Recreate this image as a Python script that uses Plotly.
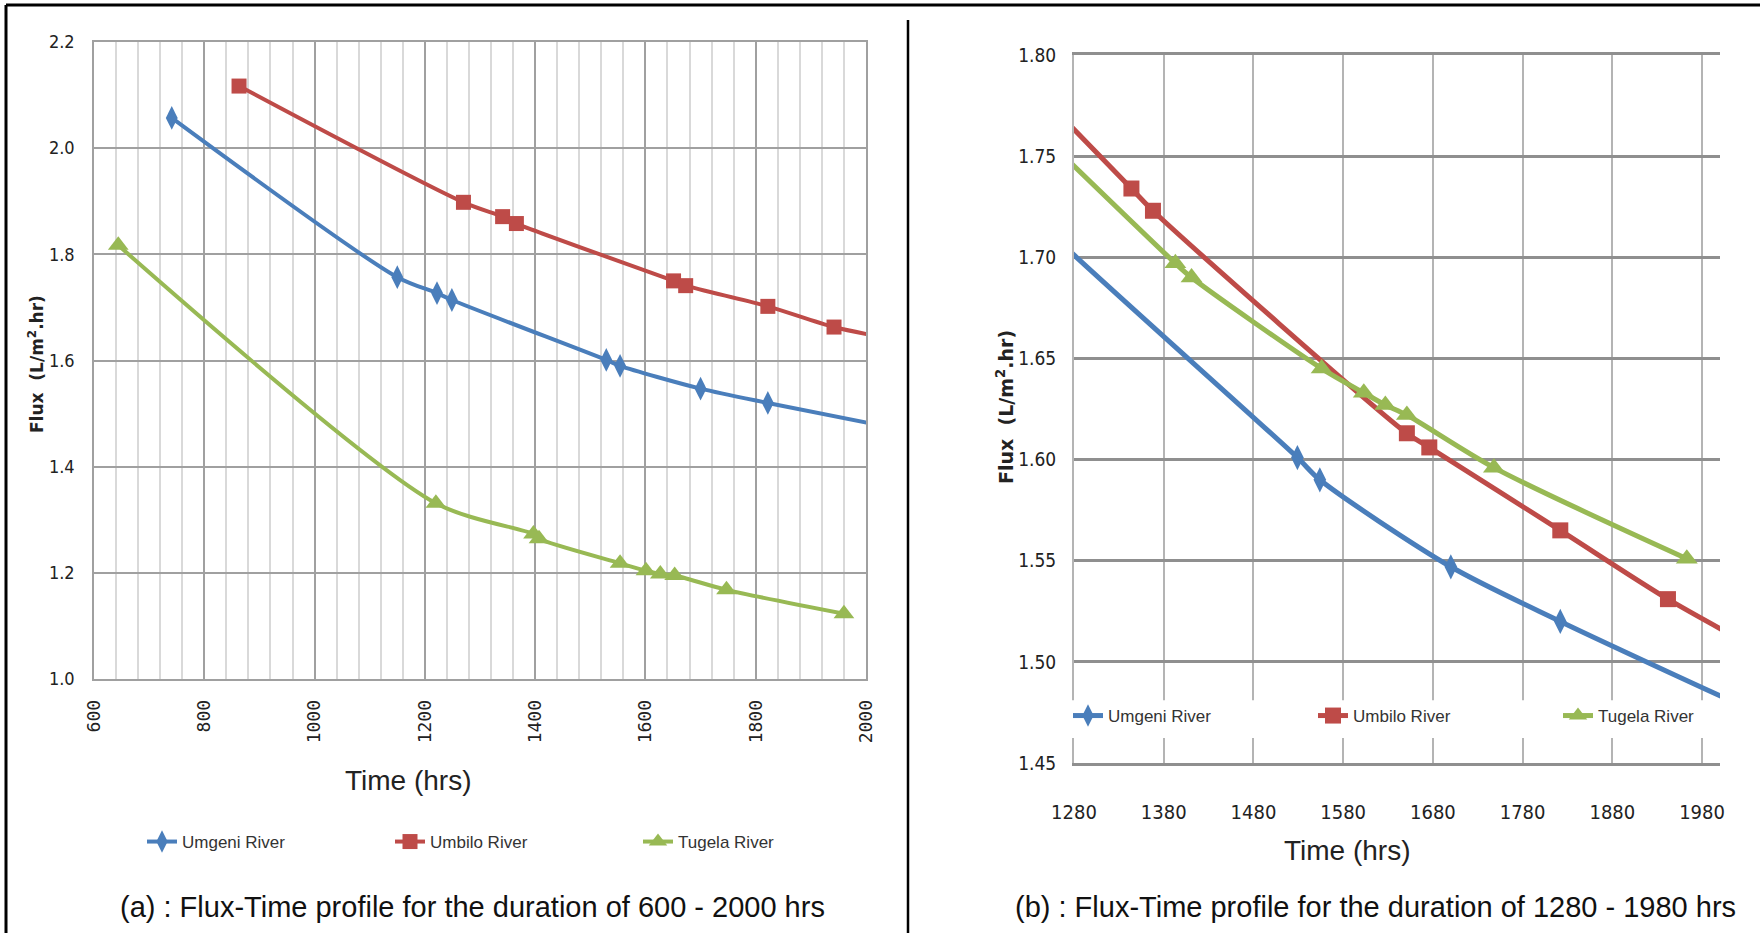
import plotly.graph_objects as go

# ---------------- data: panel (a) 600 - 2000 hrs ----------------
umgeni_t = [741, 1150, 1222, 1249, 1529, 1554, 1700, 1822, 2060]
umgeni_flux = [2.057, 1.757, 1.727, 1.714, 1.601, 1.590, 1.547, 1.520, 1.471]

umbilo_a_t = [863, 1270, 1341, 1366, 1651, 1673, 1822, 1942, 2060]
umbilo_a_flux = [2.117, 1.898, 1.871, 1.858, 1.750, 1.741, 1.702, 1.663, 1.638]

tugela_a_t = [644, 1220, 1397, 1407, 1554, 1601, 1627, 1653, 1747, 1960]
tugela_a_flux = [1.817, 1.331, 1.273, 1.264, 1.218, 1.204, 1.198, 1.195, 1.168, 1.123]

# ---------------- data: panel (b) 1280 - 1980 hrs ----------------
umbilo_b_t = [1250, 1344, 1368, 1651, 1676, 1822, 1942, 2060]
umbilo_b_flux = [1.777, 1.734, 1.723, 1.613, 1.606, 1.565, 1.531, 1.502]

tugela_b_t = [1250, 1393, 1411, 1556, 1603, 1627, 1651, 1748, 1963]
tugela_b_flux = [1.758, 1.697, 1.690, 1.645, 1.633, 1.627, 1.622, 1.596, 1.551]

series_names = ["Umgeni River", "Umbilo River", "Tugela River"]
a_xticks = [600, 800, 1000, 1200, 1400, 1600, 1800, 2000]
b_xticks = [1280, 1380, 1480, 1580, 1680, 1780, 1880, 1980]
a_yticks = [1.0, 1.2, 1.4, 1.6, 1.8, 2.0, 2.2]
b_yticks = [1.45, 1.50, 1.55, 1.60, 1.65, 1.70, 1.75, 1.80]

# ---------------- styling ----------------
W, H = 1760, 933
BLUE, RED, GREEN = "#4A7EBB", "#BE4B48", "#98B954"
NARROW = "Liberation Sans Narrow, DejaVu Sans Condensed, Liberation Sans, Arial"
SANS = "Liberation Sans, Arial"


def px_x(p):
    return p / W


def px_y(p):
    return 1 - p / H


fig = go.Figure()

styles = [
    (BLUE, "diamond-tall", 17),
    (RED, "square", 15),
    (GREEN, "triangle-up", 18),
]

a_data = [(umgeni_t, umgeni_flux), (umbilo_a_t, umbilo_a_flux), (tugela_a_t, tugela_a_flux)]
b_data = [(umgeni_t, umgeni_flux), (umbilo_b_t, umbilo_b_flux), (tugela_b_t, tugela_b_flux)]

for name, (col, sym, sz), (xs, ys) in zip(series_names, styles, a_data):
    fig.add_trace(go.Scatter(
        x=xs, y=ys, name=name, mode="lines+markers",
        line=dict(color=col, width=4, shape="spline", smoothing=0.8),
        marker=dict(color=col, symbol=sym, size=sz),
        xaxis="x", yaxis="y", legend="legend",
    ))

for name, (col, sym, sz), (xs, ys) in zip(series_names, styles, b_data):
    fig.add_trace(go.Scatter(
        x=xs, y=ys, name=name, mode="lines+markers",
        line=dict(color=col, width=5, shape="spline", smoothing=0.8),
        marker=dict(color=col, symbol=sym, size=sz + 1),
        xaxis="x2", yaxis="y2", legend="legend2",
    ))

fig.update_layout(
    width=W, height=H, autosize=False,
    margin=dict(l=0, r=0, t=0, b=0, pad=0, autoexpand=False),
    paper_bgcolor="white", plot_bgcolor="white",
    showlegend=True,
    xaxis=dict(
        domain=[px_x(94), px_x(866)], range=[600, 2000], anchor="y",
        tickvals=a_xticks, ticktext=[str(v) for v in a_xticks], tickangle=-90,
        tickfont=dict(family="DejaVu Sans Mono", size=18, color="#222"),
        showgrid=True, gridcolor="#a0a0a0", gridwidth=1.5,
        minor=dict(dtick=40, tick0=600, showgrid=True, gridcolor="#d9d9d9", gridwidth=1.5),
        showline=True, linecolor="#a0a0a0", linewidth=1.5, mirror=True,
        zeroline=False, ticks="", ticklabelstandoff=12,
    ),
    yaxis=dict(
        domain=[px_y(679), px_y(42)], range=[1.0, 2.2], anchor="x",
        tickvals=a_yticks, ticktext=["%.1f" % v for v in a_yticks],
        tickfont=dict(family=NARROW, size=18, color="#222"),
        showgrid=True, gridcolor="#a0a0a0", gridwidth=2,
        showline=True, linecolor="#a0a0a0", linewidth=1.5, mirror=True,
        zeroline=False, ticks="", ticklabelstandoff=14,
    ),
    xaxis2=dict(
        domain=[px_x(1074), px_x(1720)], range=[1280, 2000], anchor="y2",
        tickvals=b_xticks, ticktext=[str(v) for v in b_xticks],
        tickfont=dict(family=NARROW, size=20, color="#222"),
        showgrid=True, gridcolor="#b4b4b4", gridwidth=2,
        showline=True, linecolor="#8f8f8f", linewidth=3, mirror=True,
        zeroline=False, ticks="", ticklabelstandoff=29,
    ),
    yaxis2=dict(
        domain=[px_y(763), px_y(55)], range=[1.45, 1.80], anchor="x2",
        tickvals=b_yticks, ticktext=["%.2f" % v for v in b_yticks],
        tickfont=dict(family=NARROW, size=19, color="#222"),
        showgrid=True, gridcolor="#8f8f8f", gridwidth=3,
        showline=True, linecolor="#b4b4b4", linewidth=2,
        zeroline=False, ticks="", ticklabelstandoff=12,
    ),
    legend=dict(
        orientation="h", x=px_x(142), y=px_y(842), xanchor="left", yanchor="middle",
        entrywidth=203, entrywidthmode="pixels", bgcolor="rgba(0,0,0,0)",
        font=dict(family=SANS, size=17, color="#333"),
    ),
    legend2=dict(
        orientation="h", x=px_x(1068), y=px_y(716), xanchor="left", yanchor="middle",
        entrywidth=200, entrywidthmode="pixels", bgcolor="rgba(0,0,0,0)",
        font=dict(family=SANS, size=17, color="#333"),
    ),
)

shapes = [
    # outer frame (top + left) and divider
    dict(type="line", xref="paper", yref="paper", x0=px_x(6), x1=1, y0=px_y(5), y1=px_y(5),
         line=dict(color="black", width=3)),
    dict(type="line", xref="paper", yref="paper", x0=px_x(6), x1=px_x(6), y0=px_y(5), y1=0,
         line=dict(color="black", width=3)),
    dict(type="line", xref="paper", yref="paper", x0=px_x(908), x1=px_x(908), y0=px_y(20), y1=0,
         line=dict(color="black", width=2.5)),
    # white band behind legend of panel (b)
    dict(type="rect", xref="x2 domain", yref="y2", x0=-0.01, x1=1.0, y0=1.4624, y1=1.481,
         fillcolor="white", line=dict(width=0), layer="above"),
]
fig.update_layout(shapes=shapes)


def ann(text, x, y, size, family=SANS, angle=0, color="#222"):
    return dict(text=text, x=px_x(x), y=px_y(y), xref="paper", yref="paper",
                xanchor="center", yanchor="middle", showarrow=False, textangle=angle,
                font=dict(family=family, size=size, color=color))


annotations = [
    ann("Time (hrs)", 408, 780, 28),
    ann("Time (hrs)", 1347, 850, 28),
    ann("<b>Flux  (L/m<sup>2</sup>.hr)</b>", 36, 364, 17, family="DejaVu Sans", angle=-90),
    ann("<b>Flux  (L/m<sup>2</sup>.hr)</b>", 1005, 407, 19, family="DejaVu Sans", angle=-90),
    ann("(a) : Flux-Time profile for the duration of 600 - 2000 hrs", 472, 907, 29, color="#111"),
    ann("(b) : Flux-Time profile for the duration of 1280 - 1980 hrs", 1375, 907, 29, color="#111"),
]
fig.update_layout(annotations=annotations)

fig.write_html("out.html")
